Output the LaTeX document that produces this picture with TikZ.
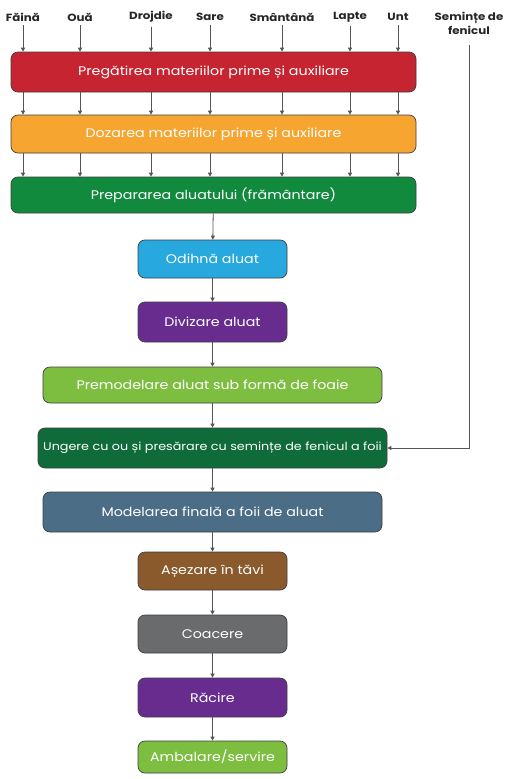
\documentclass[tikz,border=0pt]{standalone}
\usepackage{fontspec}
\setmainfont{Poppins}[FakeStretch=1.14]
\usetikzlibrary{arrows.meta,positioning,calc}
\definecolor{cRed}{HTML}{C62430}
\definecolor{cOrange}{HTML}{F6A531}
\definecolor{cGreen}{HTML}{128A3E}
\definecolor{cBlue}{HTML}{27A8DF}
\definecolor{cPurple}{HTML}{682C8F}
\definecolor{cLime}{HTML}{7DBE41}
\definecolor{cDkGreen}{HTML}{0F6B3A}
\definecolor{cSlate}{HTML}{4B6D86}
\definecolor{cBrown}{HTML}{8A5A2C}
\definecolor{cGray}{HTML}{6A6B6D}
\definecolor{cLine}{HTML}{555555}
\tikzset{
  procbox/.style={draw=black!75, line width=0.7pt, rounded corners=7pt, text=white,
    font=\fontsize{12.5}{14}\selectfont, inner sep=2pt, align=center},
  ingr/.style={font=\bfseries\fontsize{10.4}{12}\selectfont, text=black!85, inner sep=1pt},
  arr/.style={draw=cLine, line width=0.8pt, -{Triangle[length=4pt,width=4pt]}},
}
\begin{document}
\begin{tikzpicture}[x=1pt,y=-1pt]
\useasboundingbox[fill=white] (0,0) rectangle (508,779);
% ingredients
\node[ingr] (f1) at (23,17) {Făină};
\node[ingr] (f2) at (80,17) {Ouă};
\node[ingr] (f3) at (151,17) {Drojdie};
\node[ingr] (f4) at (210,17) {Sare};
\node[ingr] (f5) at (282,17) {Smântână};
\node[ingr] (f6) at (350,17) {Lapte};
\node[ingr] (f7) at (398,17) {Unt};
\node[ingr, align=center, font=\bfseries\fontsize{10.4}{14}\selectfont] (fen) at (469,23) {Semințe de\\fenicul};
% boxes
\node[procbox, fill=cRed, minimum width=405, minimum height=40] (b1) at (213.5,72) {Pregătirea materiilor prime și auxiliare};
\node[procbox, fill=cOrange, minimum width=405, minimum height=38] (b2) at (213.5,134) {Dozarea materiilor prime și auxiliare};
\node[procbox, fill=cGreen, minimum width=405, minimum height=36] (b3) at (213.5,195) {Prepararea aluatului (frământare)};
\node[procbox, fill=cBlue, minimum width=149, minimum height=38] (b4) at (212.5,259) {Odihnă aluat};
\node[procbox, fill=cPurple, minimum width=149, minimum height=40] (b5) at (212.5,322) {Divizare aluat};
\node[procbox, fill=cLime, minimum width=339, minimum height=36] (b6) at (212.5,385) {Premodelare aluat sub formă de foaie};
\node[procbox, fill=cDkGreen, minimum width=349, minimum height=40, font=\fontsize{11.2}{13}\selectfont] (b7) at (212.5,448) {Ungere cu ou și presărare cu semințe de fenicul a foii};
\node[procbox, fill=cSlate, minimum width=339, minimum height=40] (b8) at (212.5,512) {Modelarea finală a foii de aluat};
\node[procbox, fill=cBrown, minimum width=149, minimum height=38] (b9) at (212.5,571) {Așezare în tăvi};
\node[procbox, fill=cGray, minimum width=149, minimum height=38] (b10) at (212.5,634) {Coacere};
\node[procbox, fill=cPurple, minimum width=149, minimum height=39] (b11) at (212.5,697.5) {Răcire};
\node[procbox, fill=cLime, minimum width=149, minimum height=32] (b12) at (212.5,757) {Ambalare/servire};
% ingredient arrows
\foreach \f in {f1,f2,f3,f4,f5,f6,f7}{
  \draw[arr] (\f.south) ++(0,3) -- (\f |- b1.north);
  \draw[arr] (\f |- b1.south) -- (\f |- b2.north);
  \draw[arr] (\f |- b2.south) -- (\f |- b3.north);
}
% main chain
\draw[arr] (b3) -- (b4);
\draw[arr] (b4) -- (b5);
\draw[arr] (b5) -- (b6);
\draw[arr] (b6) -- (b7);
\draw[arr] (b7) -- (b8);
\draw[arr] (b8) -- (b9);
\draw[arr] (b9) -- (b10);
\draw[arr] (b10) -- (b11);
\draw[arr] (b11) -- (b12);
% fennel
\draw[arr, shorten <=10pt] (fen.south) |- (b7.east);
\end{tikzpicture}
\end{document}
